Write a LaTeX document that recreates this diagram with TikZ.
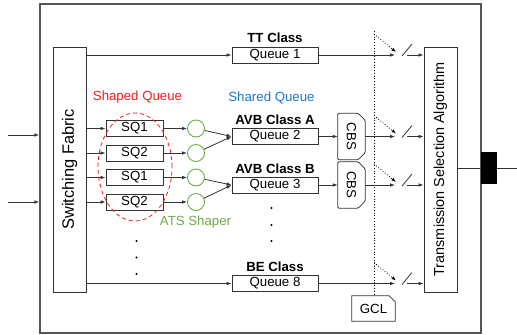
\documentclass[tikz,border=0pt]{standalone}
\usepackage{fontspec}
\setmainfont{Liberation Sans}
\usetikzlibrary{arrows.meta,calc,shapes.geometric}
\definecolor{lc}{HTML}{333333}
\definecolor{framegray}{HTML}{555555}
\definecolor{shapedred}{HTML}{F01E1E}
\definecolor{sharedblue}{HTML}{1F7ACF}
\definecolor{atsgreen}{HTML}{70AD47}
\tikzset{
  ln/.style={draw=lc, line width=0.8bp},
  arr/.style={ln, -{Latex[length=5bp,width=3.6bp]}},
  dotarr/.style={draw=black, dotted, line width=0.8bp, -{Latex[length=4.5bp,width=3.4bp]}},
  dotline/.style={draw=black, dotted, line width=0.8bp},
  txt/.style={font=\fontsize{13.3}{15}\selectfont},
  cls/.style={font=\bfseries\fontsize{13.3}{15}\selectfont},
  box/.style={ln, fill=white, inner sep=0pt, txt},
  qbox/.style={box, minimum width=86bp, minimum height=16bp},
  sqbox/.style={box, minimum width=57bp, minimum height=16bp},
  tallbox/.style={box, minimum width=33bp, minimum height=245bp},
  shaper/.style={circle, draw=atsgreen, line width=0.9bp, minimum size=17bp, inner sep=0pt},
  cbsbox/.style={inner sep=0pt, minimum width=27bp, minimum height=46bp},
  dotmark/.style={fill=black},
}
\begin{document}
\begin{tikzpicture}[x=1bp,y=-1bp]
  % canvas
  \fill[white] (0,0) rectangle (517,334);
  \useasboundingbox (0,0) rectangle (517,334);

  % switch frame and output port
  \node[draw=framegray, line width=1.2bp, minimum width=441bp, minimum height=329bp, inner sep=0pt] (outer) at (260.5,168.5) {};
  \coordinate (inA) at (8,135);
  \coordinate (inB) at (8,202);
  \draw[arr] (inA) -- (inA -| outer.west);
  \draw[arr] (inB) -- (inB -| outer.west);

  % switching fabric and transmission selection
  \node[tallbox] (fab) at (69.5,169.5) {};
  \node[txt, rotate=90, font=\fontsize{16.5}{18}\selectfont] (fabtxt) at (fab) {Switching Fabric};
  \node[tallbox] (tsa) at (440.5,169.5) {};
  \node[txt, rotate=90, font=\fontsize{14.5}{16}\selectfont] (tsatxt) at (tsa) {Transmission Selection Algorithm};

  \coordinate (out) at (517,168);
  \draw[ln] (tsa.east |- out) -- (out);
  \node[fill=black, minimum width=16bp, minimum height=32bp, inner sep=0pt] (port) at (489,168) {};

  % shared queues
  \node[qbox] (q1) at (275,55) {Queue 1};
  \node[qbox] (q2) at (275,136.5) {Queue 2};
  \node[qbox] (q3) at (275,185) {Queue 3};
  \node[qbox] (q8) at (275,283.5) {Queue 8};
  \node[cls] (ttl) at (275,38) {TT Class};
  \node[cls] (avbA) at (275,119.5) {AVB Class A};
  \node[cls] (avbB) at (275,169) {AVB Class B};
  \node[cls] (bel) at (275,267) {BE Class};

  % shaped queues and ATS shapers
  \node[sqbox] (sqa1) at (134.5,128.5) {SQ1};
  \node[sqbox] (sqa2) at (134.5,153) {SQ2};
  \node[sqbox] (sqb1) at (134.5,177.5) {SQ1};
  \node[sqbox] (sqb2) at (134.5,202) {SQ2};
  \node[shaper] (ca1) at (196,128.5) {};
  \node[shaper] (ca2) at (196,153) {};
  \node[shaper] (cb1) at (196,177.5) {};
  \node[shaper] (cb2) at (196,202) {};

  \node[txt, text=shapedred] (shapedlbl) at (137.5,97.5) {Shaped Queue};
  \node[txt, text=sharedblue] (sharedlbl) at (271.5,97.5) {Shared Queue};
  \node[txt, text=atsgreen] (atslbl) at (195.5,222) {ATS Shaper};

  % fabric outputs
  \foreach \t in {q1,q8} \draw[arr] (fab.east |- \t.west) -- (\t.west);
  \foreach \t in {sqa1,sqa2,sqb1,sqb2} \draw[arr] (fab.east |- \t.west) -- (\t.west);
  \foreach \s/\c in {sqa1/ca1,sqa2/ca2,sqb1/cb1,sqb2/cb2} \draw[arr] (\s.east) -- (\c);
  \draw[arr] (ca1) -- (q2.west);
  \draw[arr] (ca2) -- (q2.west);
  \draw[arr] (cb1) -- (q3.west);
  \draw[arr] (cb2) -- (q3.west);

  \node[draw=shapedred, dashed, dash pattern=on 4bp off 3bp, line width=0.8bp, ellipse, minimum width=74bp, minimum height=108bp] (sqgroup) at (135,167) {};

  % credit based shapers
  \node[cbsbox] (cbsA) at (351.5,136.5) {};
  \node[cbsbox] (cbsB) at (351.5,185) {};
  \foreach \c in {cbsA,cbsB} {
    \node[txt, rotate=-90] (\c txt) at (\c) {CBS};
    \draw[ln, rounded corners=1.2bp] (\c.north west) -- ($(\c.north east)+(-7,0)$) -- ($(\c.north east)+(0,7)$)
      -- ($(\c.south east)+(0,-7)$) -- ($(\c.south east)+(-7,0)$) -- (\c.south west) -- cycle;
  }

  % gate control list
  \node[txt, minimum width=43bp, minimum height=25bp, inner sep=0pt] (gcl) at (373.5,308.5) {GCL};
  \draw[ln] (gcl.north west) -- ($(gcl.north east)+(-6,0)$) -- ($(gcl.north east)+(0,6)$) -- (gcl.south east) -- (gcl.south west) -- cycle;
  \coordinate (gtop) at (374,31);
  \draw[dotline] (gtop) -- (gtop |- gcl.north);

  % gates
  \foreach \r/\n in {55/1,136.5/2,185/3,283.5/8} {
    \coordinate (in\n) at (395,\r);
    \coordinate (g\n) at (374,\r-21);
    \coordinate (t\n) at (396,\r-3);
    \coordinate (o\n) at (407,\r);
    \draw[ln] (402,\r+1) -- (412,\r-11);
    \draw[arr] (o\n) -- (o\n -| tsa.west);
    \draw[dotarr] (g\n) -- (t\n);
  }
  \draw[arr] (q1.east) -- (in1);
  \draw[arr] (q8.east) -- (in8);
  \draw[arr] (q2.east) -- (cbsA);
  \draw[arr] (q3.east) -- (cbsB);
  \draw[arr] (cbsA) -- (in2);
  \draw[arr] (cbsB) -- (in3);

  % ellipsis dots
  \foreach \y in {241,257.5,274} \fill[dotmark] (136.5,\y) circle[radius=1.1bp];
  \foreach \y in {208,225,241} \fill[dotmark] (271.5,\y) circle[radius=1.1bp];
\end{tikzpicture}
\end{document}
